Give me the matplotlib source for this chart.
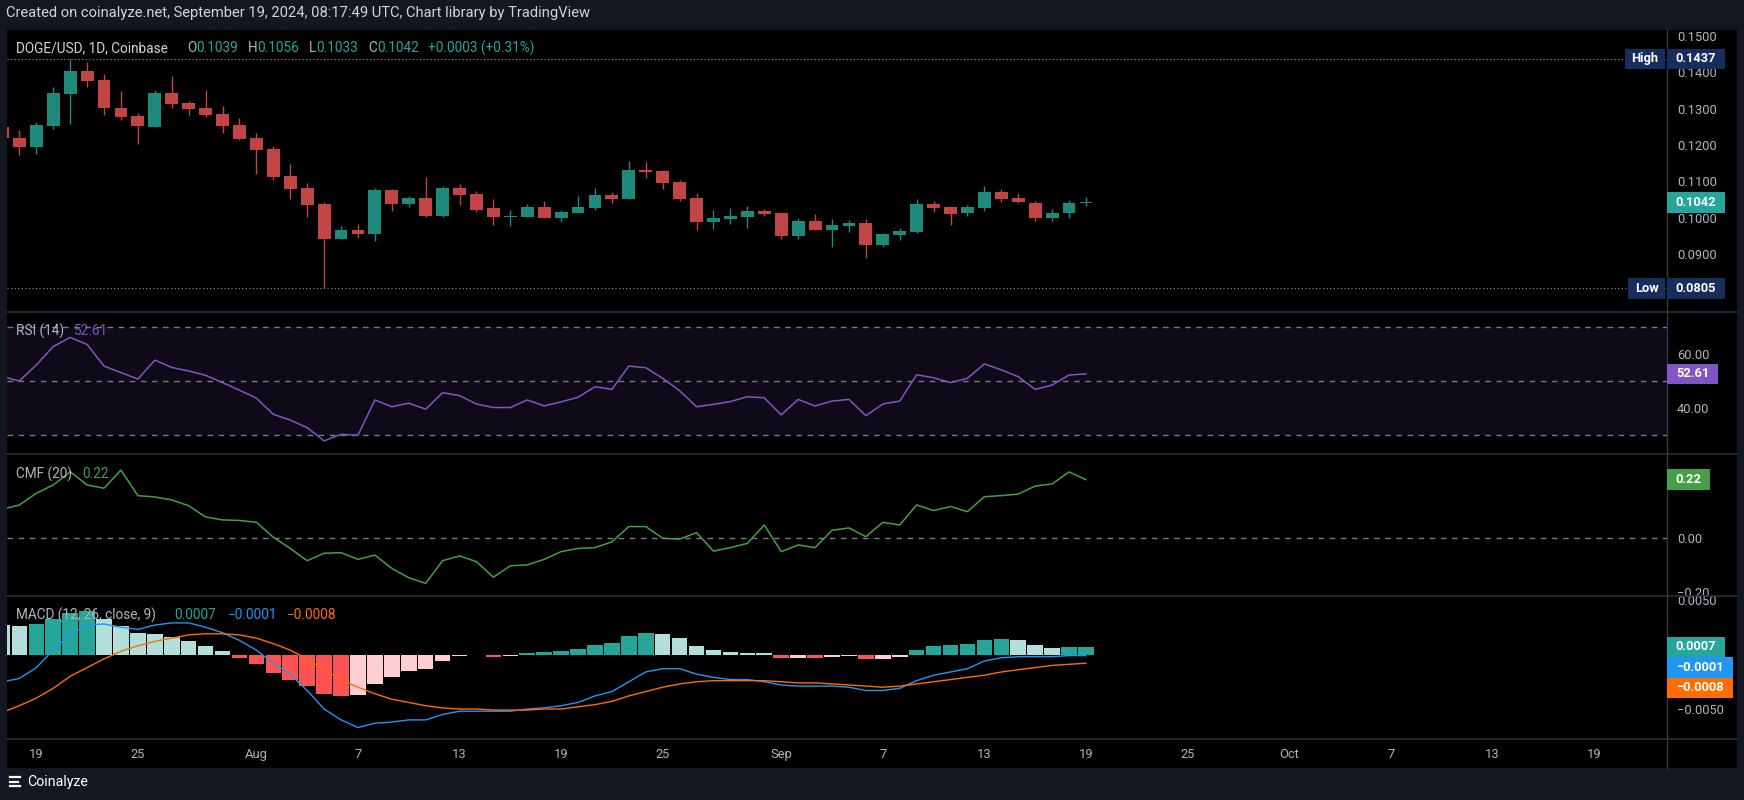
import matplotlib
matplotlib.use('Agg')
import matplotlib.pyplot as plt
import numpy as np
import pandas as pd
from matplotlib.patches import Rectangle
from matplotlib.lines import Line2D

plt.rcParams['font.family'] = ['Roboto', 'DejaVu Sans']

# ---------------- data ----------------
dates = pd.date_range('2024-07-17', '2024-09-19', freq='D')

open_ = [0.1250, 0.1219, 0.1195, 0.1253, 0.1341, 0.1404, 0.1379, 0.1302, 0.1280, 0.1250,
         0.1343, 0.1316, 0.1302, 0.1285, 0.1255, 0.1219, 0.1189, 0.1115, 0.1082, 0.1038,
         0.0941, 0.0966, 0.0955, 0.1076, 0.1038, 0.1055, 0.1005, 0.1082, 0.1065, 0.1027,
         0.1002, 0.1002, 0.1029, 0.0999, 0.1013, 0.1027, 0.1062, 0.1051, 0.1131, 0.1128,
         0.1098, 0.1054, 0.0988, 0.0996, 0.1002, 0.1018, 0.1013, 0.0949, 0.0991, 0.0966,
         0.0977, 0.0985, 0.0925, 0.0952, 0.0960, 0.1038, 0.1029, 0.1013, 0.1027, 0.1071,
         0.1055, 0.1040, 0.0999, 0.1014, 0.1039]
high = [0.1262, 0.1241, 0.1263, 0.1360, 0.1437, 0.1429, 0.1395, 0.1349, 0.1288, 0.1351,
        0.1391, 0.1322, 0.1351, 0.1307, 0.1274, 0.1233, 0.1197, 0.1148, 0.1096, 0.1043,
        0.0976, 0.0982, 0.1082, 0.1079, 0.1060, 0.1112, 0.1087, 0.1093, 0.1073, 0.1051,
        0.1021, 0.1038, 0.1046, 0.1021, 0.1060, 0.1082, 0.1071, 0.1156, 0.1153, 0.1131,
        0.1104, 0.1068, 0.1021, 0.1027, 0.1032, 0.1024, 0.1016, 0.0999, 0.1010, 0.0996,
        0.0994, 0.0996, 0.0958, 0.0971, 0.1051, 0.1046, 0.1032, 0.1035, 0.1087, 0.1079,
        0.1068, 0.1045, 0.1024, 0.1048, 0.1056]
low = [0.1210, 0.1172, 0.1176, 0.1244, 0.1258, 0.1360, 0.1283, 0.1270, 0.1204, 0.1250,
       0.1303, 0.1283, 0.1278, 0.1234, 0.1214, 0.1120, 0.1104, 0.1051, 0.1001, 0.0805,
       0.0941, 0.0944, 0.0936, 0.1018, 0.1029, 0.1002, 0.1002, 0.1035, 0.1016, 0.0980,
       0.0977, 0.1002, 0.0999, 0.0988, 0.1013, 0.1021, 0.1040, 0.1051, 0.1109, 0.1079,
       0.1046, 0.0966, 0.0969, 0.0983, 0.0971, 0.1004, 0.0941, 0.0941, 0.0966, 0.0919,
       0.0961, 0.0889, 0.0919, 0.0939, 0.0958, 0.1016, 0.0980, 0.1004, 0.1018, 0.1043,
       0.1039, 0.0991, 0.0991, 0.1000, 0.1033]
close = [0.1218, 0.1195, 0.1255, 0.1343, 0.1404, 0.1377, 0.1303, 0.1278, 0.1253, 0.1343,
         0.1314, 0.1300, 0.1283, 0.1253, 0.1216, 0.1186, 0.1112, 0.1079, 0.1035, 0.0941,
         0.0966, 0.0955, 0.1076, 0.1038, 0.1055, 0.1005, 0.1082, 0.1062, 0.1021, 0.1002,
         0.1004, 0.1029, 0.0999, 0.1016, 0.1029, 0.1062, 0.1051, 0.1131, 0.1126, 0.1095,
         0.1051, 0.0988, 0.0999, 0.1004, 0.1018, 0.1010, 0.0949, 0.0991, 0.0966, 0.0980,
         0.0985, 0.0925, 0.0955, 0.0963, 0.1038, 0.1027, 0.1010, 0.1029, 0.1071, 0.1051,
         0.1044, 0.0999, 0.1014, 0.1040, 0.1042]

rsi = [51.6, 50.0, 55.9, 62.7, 66.1, 63.5, 55.5, 53.1, 50.7, 57.7,
       55.0, 53.7, 52.1, 49.4, 46.6, 43.7, 37.7, 35.6, 32.8, 27.9,
       30.3, 30.0, 43.0, 40.5, 41.8, 39.6, 45.7, 44.6, 41.5, 40.2,
       40.2, 43.0, 40.8, 42.3, 44.0, 47.9, 46.9, 55.5, 54.9, 51.0,
       46.4, 40.5, 41.4, 42.4, 44.2, 43.8, 37.5, 43.2, 40.8, 42.6,
       43.2, 37.2, 41.5, 42.6, 52.3, 51.2, 49.4, 51.0, 56.3, 54.1,
       51.6, 46.9, 48.5, 52.2, 52.61]

cmf = [0.109, 0.125, 0.169, 0.200, 0.250, 0.200, 0.188, 0.256, 0.160, 0.155,
       0.144, 0.122, 0.080, 0.069, 0.067, 0.060, 0.004, -0.038, -0.084, -0.056,
       -0.054, -0.079, -0.063, -0.113, -0.148, -0.169, -0.084, -0.066, -0.088, -0.146,
       -0.103, -0.100, -0.079, -0.050, -0.038, -0.035, -0.013, 0.044, 0.044, 0.000,
       -0.003, 0.021, -0.048, -0.035, -0.019, 0.050, -0.050, -0.025, -0.035, 0.030,
       0.039, 0.006, 0.060, 0.050, 0.125, 0.104, 0.119, 0.100, 0.156, 0.160,
       0.166, 0.196, 0.204, 0.249, 0.220]

macd_hist = [0.0027, 0.0026, 0.0028, 0.0033, 0.0038, 0.0040, 0.0033, 0.0026, 0.0020, 0.0019,
             0.0016, 0.0012, 0.0008, 0.0003, -0.0003, -0.0009, -0.0017, -0.0023, -0.0029, -0.0036,
             -0.0038, -0.0037, -0.0027, -0.0021, -0.0015, -0.0013, -0.0006, -0.00012, -0.00008, -0.0002,
             -0.0001, 0.00017, 0.00026, 0.00035, 0.00053, 0.0009, 0.0011, 0.0017, 0.0020, 0.0019,
             0.0015, 0.0008, 0.00044, 0.00026, 0.00017, 0.00015, -0.0003, -0.00028, -0.0003, -0.00027,
             -0.0001, -0.0004, -0.00038, -0.0002, 0.0004, 0.0008, 0.0009, 0.0010, 0.00136, 0.00145,
             0.0013, 0.0009, 0.0006, 0.00065, 0.0007]

macd_line = [-0.0025, -0.0022, -0.0012, 0.0004, 0.0019, 0.0027, 0.0028, 0.0025, 0.0023, 0.0027,
             0.0029, 0.0029, 0.0025, 0.0020, 0.0013, 0.0004, -0.0008, -0.0018, -0.0033, -0.0050,
             -0.0060, -0.0067, -0.0063, -0.0062, -0.0060, -0.0060, -0.0055, -0.0052, -0.0052, -0.0052,
             -0.0052, -0.0050, -0.0049, -0.0047, -0.0044, -0.0038, -0.0034, -0.0025, -0.0016, -0.0013,
             -0.0013, -0.0018, -0.0021, -0.0023, -0.0023, -0.0025, -0.0028, -0.0029, -0.0029, -0.0029,
             -0.0030, -0.0033, -0.0033, -0.0031, -0.0024, -0.0019, -0.0016, -0.0013, -0.0006, -0.0003,
             -0.0002, -0.0002, -0.0002, -0.0001, -0.0001]

signal_line = [-0.0053, -0.0047, -0.0040, -0.0031, -0.0020, -0.0012, -0.0004, 0.0003, 0.0008, 0.0012,
               0.0015, 0.0018, 0.0019, 0.0019, 0.0018, 0.0015, 0.0010, 0.0004, -0.0004, -0.0014,
               -0.0023, -0.0030, -0.0036, -0.0041, -0.0044, -0.0047, -0.0049, -0.0050, -0.0050, -0.0051,
               -0.0051, -0.0051, -0.0050, -0.0050, -0.0048, -0.0046, -0.0043, -0.0038, -0.0034, -0.0030,
               -0.0027, -0.0025, -0.0024, -0.0024, -0.0024, -0.0024, -0.0025, -0.0026, -0.0026, -0.0027,
               -0.0028, -0.0029, -0.0030, -0.0029, -0.0027, -0.0025, -0.0023, -0.0021, -0.0019, -0.0016,
               -0.0014, -0.0012, -0.0010, -0.0009, -0.0008]

period_high, period_low = 0.1437, 0.0805

tick_dates = ['2024-07-19', '2024-07-25', '2024-08-01', '2024-08-07', '2024-08-13', '2024-08-19',
              '2024-08-25', '2024-09-01', '2024-09-07', '2024-09-13', '2024-09-19', '2024-09-25',
              '2024-10-01', '2024-10-07', '2024-10-13', '2024-10-19']
tick_labels = ['19', '25', 'Aug', '7', '13', '19', '25', 'Sep', '7', '13', '19', '25',
               'Oct', '7', '13', '19']

price_ticks = [0.09, 0.10, 0.11, 0.12, 0.13, 0.14, 0.15]
price_tick_labels = ['0.0900', '0.1000', '0.1100', '0.1200', '0.1300', '0.1400', '0.1500']
rsi_ticks, rsi_tick_labels = [40, 60], ['40.00', '60.00']
cmf_ticks, cmf_tick_labels = [-0.2, 0.0], ['\u22120.20', '0.00']
macd_ticks, macd_tick_labels = [-0.005, 0.005], ['\u22120.0050', '0.0050']

# ---------------- styling / layout ----------------
W, H = 1744, 800
BG_FRAME = '#131722'
UP, DN = '#1f8a7b', '#c24545'
GRAY = '#b2b5be'
TEAL = '#26a69a'
SEP = '#2a2e39'
DASH = '#787b86'

fig = plt.figure(figsize=(W / 100, H / 100), dpi=100, facecolor=BG_FRAME)


def fx(px):
    return px / W


def fy(py):
    return 1 - py / H


fig.add_artist(Rectangle((fx(7), fy(768)), fx(1737) - fx(7), fy(30) - fy(768),
                         transform=fig.transFigure, fc='black', ec='none', zorder=-5))

L, R = 7, 1667
ref = pd.Timestamp('2024-07-19')
x = np.array([(d - ref).days for d in dates])
XMIN, XMAX = -1.73, 96.32


def add_pane(top, bottom):
    ax = fig.add_axes([fx(L), fy(bottom), fx(R) - fx(L), fy(top) - fy(bottom)])
    ax.set_facecolor('black')
    for s in ax.spines.values():
        s.set_visible(False)
    ax.set_xlim(XMIN, XMAX)
    ax.set_xticks([])
    ax.yaxis.tick_right()
    ax.tick_params(axis='y', length=0, pad=7.2, labelsize=9.3, labelcolor=GRAY)
    return ax


ax_p = add_pane(30, 312)
ax_r = add_pane(312, 454)
ax_c = add_pane(454, 596)
ax_m = add_pane(596, 739)

# ---- price pane ----
o = np.array(open_); h = np.array(high); l = np.array(low); c = np.array(close)
cols = np.where(c >= o, UP, DN)
ax_p.vlines(x, l, h, colors=cols, lw=1.0, zorder=2)
body_lo = np.minimum(o, c)
body_h = np.maximum(np.abs(c - o), 0.00005)
ax_p.bar(x, body_h, bottom=body_lo, width=0.76, color=cols, lw=0, zorder=3)
ax_p.set_ylim(0.07403, 0.15165)
ax_p.set_yticks(price_ticks)
ax_p.set_yticklabels(price_tick_labels)
ax_p.axhline(period_high, color='#9598a1', lw=0.8, ls=(0, (1, 2.2)), zorder=1)
ax_p.axhline(period_low, color='#9598a1', lw=0.8, ls=(0, (1, 2.2)), zorder=1)

# ---- RSI pane ----
ax_r.set_ylim(23.06, 75.46)
ax_r.axhspan(30, 70, color='#0e0a18', zorder=0, lw=0)
for lv in (70, 50, 30):
    ax_r.axhline(lv, color=DASH, lw=1.0, ls=(0, (4, 4)), zorder=1)
ax_r.plot(x, rsi, color='#7e57c2', lw=1.1, zorder=3)
ax_r.set_yticks(rsi_ticks)
ax_r.set_yticklabels(rsi_tick_labels)

# ---- CMF pane ----
ax_c.set_ylim(-0.2165, 0.3163)
ax_c.axhline(0, color=DASH, lw=1.0, ls=(0, (4, 4)), zorder=1)
ax_c.plot(x, cmf, color='#43a047', lw=1.1, zorder=3)
ax_c.set_yticks(cmf_ticks)
ax_c.set_yticklabels(cmf_tick_labels)

# ---- MACD pane ----
ax_m.set_ylim(-0.007752, 0.005367)
hv = np.array(macd_hist)
hcols = []
for i, v in enumerate(hv):
    prev = hv[i - 1] if i > 0 else v + 1e-9
    if v >= 0:
        hcols.append('#26a69a' if v > prev else '#b2dfdb')
    else:
        hcols.append('#ff5252' if v < prev else '#ffcdd2')
ax_m.bar(x, hv, width=0.92, color=hcols, lw=0, zorder=2)
ax_m.plot(x, macd_line, color='#2196f3', lw=1.0, zorder=3)
ax_m.plot(x, signal_line, color='#ff6d00', lw=1.0, zorder=3)
ax_m.set_yticks(macd_ticks)
ax_m.set_yticklabels(macd_tick_labels)
tpos = [(pd.Timestamp(d) - ref).days for d in tick_dates]
ax_m.set_xticks(tpos)
ax_m.set_xticklabels(tick_labels)
ax_m.tick_params(axis='x', length=0, pad=6.5, labelsize=9.3, labelcolor=GRAY)

# ---- separators ----
for yy in (312, 454, 596, 739):
    fig.add_artist(Line2D([fx(7), fx(1737)], [fy(yy), fy(yy)], transform=fig.transFigure,
                          color=SEP, lw=1.2, zorder=4))
fig.add_artist(Line2D([fx(1667), fx(1667)], [fy(30), fy(768)], transform=fig.transFigure,
                      color='#363a45', lw=1.0, zorder=4))


# ---- right-side labels ----
def data_py(ax, val):
    return H - ax.transData.transform((0, val))[1]


def box(x0, x1, yc, fc, text, hgt=20.5, tcolor='white'):
    fig.add_artist(Rectangle((fx(x0), fy(yc + hgt / 2)), fx(x1) - fx(x0), hgt / H,
                             transform=fig.transFigure, fc=fc, ec='none', zorder=6))
    fig.text(fx((x0 + x1) / 2), fy(yc), text, color=tcolor, fontsize=9.3, fontweight='bold',
             ha='center', va='center', zorder=7)


NAVY = '#172d5c'
yh = data_py(ax_p, period_high)
box(1625, 1665, yh, NAVY, 'High')
box(1667, 1725, yh, NAVY, f'{period_high:.4f}')
yl = data_py(ax_p, period_low)
box(1628, 1665, yl, NAVY, 'Low')
box(1667, 1725, yl, NAVY, f'{period_low:.4f}')
box(1667, 1725, data_py(ax_p, close[-1]), TEAL, f'{close[-1]:.4f}')
box(1667, 1718, data_py(ax_r, rsi[-1]), '#7e57c2', f'{rsi[-1]:.2f}')
box(1667, 1710, data_py(ax_c, cmf[-1]), '#43a047', f'{cmf[-1]:.2f}')


def fmt(v):
    s = f'{abs(v):.4f}'
    return ('\u2212' + s) if v < 0 else s


mlabels = [(macd_hist[-1], TEAL), (macd_line[-1], '#2196f3'), (signal_line[-1], '#ff6d00')]
mlabels.sort(key=lambda t: -t[0])
prev = -1e9
for v, colr in mlabels:
    yc = max(data_py(ax_m, v), prev + 20.5)
    prev = yc
    box(1667, 1725 if v >= 0 else 1733, yc, colr, fmt(v))


# ---- legends ----
def legend(groups, ypx, size=9.8):
    r = fig.canvas.get_renderer()
    for x0, pieces in groups:
        xc = x0
        for txt, colr in pieces:
            t = fig.text(fx(xc), fy(ypx), txt, color=colr, fontsize=size, ha='left', va='center', zorder=8)
            xc += t.get_window_extent(r).width


legend([(16, [('DOGE/USD, 1D, Coinbase', '#d1d4dc')]),
        (187, [('O', GRAY), (f'{open_[-1]:.4f}', TEAL)]),
        (248, [('H', GRAY), (f'{high[-1]:.4f}', TEAL)]),
        (309, [('L', GRAY), (f'{low[-1]:.4f}', TEAL)]),
        (368, [('C', GRAY), (f'{close[-1]:.4f}', TEAL)]),
        (428, [('+0.0003 (+0.31%)', TEAL)])], 48.3)
legend([(16, [('RSI (14)', GRAY)]), (74, [(f'{rsi[-1]:.2f}', '#7e57c2')])], 331.5)
legend([(16, [('CMF (20)', GRAY)]), (82, [(f'{cmf[-1]:.2f}', '#43a047')])], 474)
legend([(16, [('MACD (12, 26, close, 9)', GRAY)]),
        (174, [(fmt(macd_hist[-1]), TEAL)]),
        (228, [(fmt(macd_line[-1]), '#2196f3')]),
        (287, [(fmt(signal_line[-1]), '#ff6d00')])], 615)

# ---- header / footer ----
fig.text(fx(6), fy(13), 'Created on coinalyze.net, September 19, 2024, 08:17:49 UTC, Chart library by TradingView',
         color='#d1d4dc', fontsize=10.6, ha='left', va='center')
for k, wdt in enumerate((10, 8, 10)):
    yy = 777 + k * 4.5
    fig.add_artist(Line2D([fx(10), fx(10 + wdt)], [fy(yy), fy(yy)], transform=fig.transFigure,
                          color='white', lw=1.6, zorder=8))
fig.text(fx(27), fy(782), 'Coinalyze', color='white', fontsize=10.2, ha='left', va='center')

fig.savefig('out.png', dpi=100, facecolor=BG_FRAME)
